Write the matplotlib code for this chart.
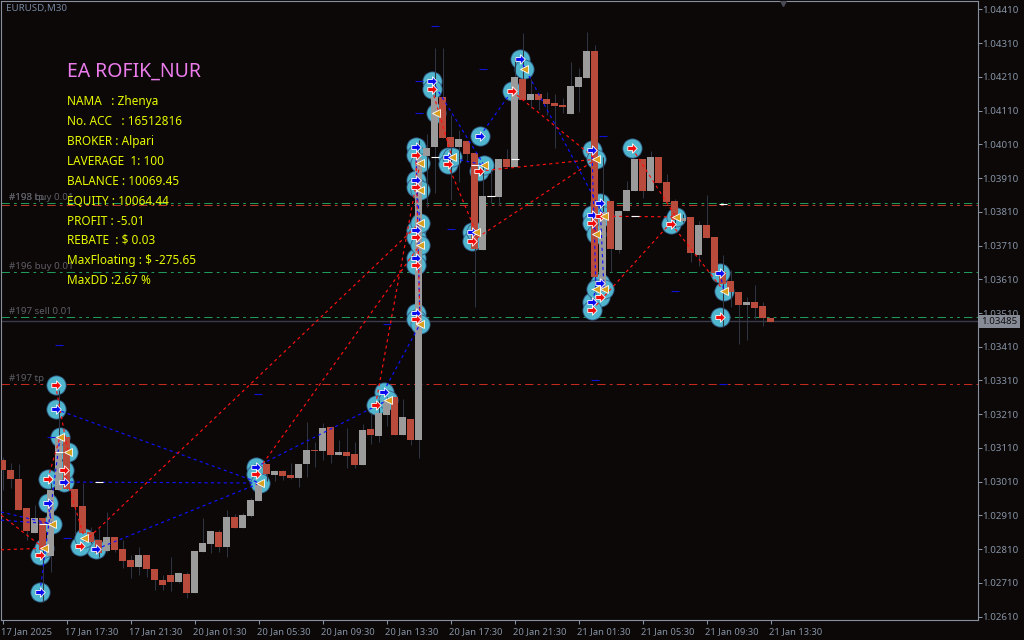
import matplotlib
matplotlib.use("Agg")
import matplotlib.pyplot as plt
from matplotlib.path import Path
from matplotlib.transforms import ScaledTranslation

FONT = "Noto Sans"
plt.rcParams["font.family"] = FONT
plt.rcParams["lines.scale_dashes"] = False

# Candle data (fifth decimal "points" above 1.00000)
opens = [3074,3045,3018,2932,2857,2902,2790,2985,3143,2987,2938,2860,2837,2806,2845,2810,2778,2758,2793,2751,2719,2733,2713,2736,2680,2802,2825,2861,2816,2905,2873,2908,2953,3062,3030,3042,3030,3021,3062,3104,3101,3172,3089,3098,3092,3059,3166,3145,3208,3261,3148,3196,3134,3975,4003,4151,4031,4001,4020,3983,3697,3855,3855,3966,3944,4203,4141,4159,4144,4132,4126,4100,4180,4206,4287,3578,3842,3697,3812,3871,3966,3871,3972,3899,3842,3784,3795,3682,3771,3735,3632,3605,3572,3534,3543,3531,3495]
closes = [3045,3018,2926,2863,2902,2807,2985,3143,2987,2936,2857,2830,2800,2845,2807,2775,2757,2793,2751,2719,2704,2713,2739,2680,2805,2828,2864,2816,2905,2873,2911,2956,3005,3033,3042,3027,3021,3062,3104,3101,3169,3089,3098,3086,3059,3163,3148,3213,3252,3148,3202,3134,3969,3998,4151,4030,4001,4026,3981,3700,3857,3858,3966,3944,4210,4141,4159,4143,4129,4123,4120,4183,4209,4287,3618,3810,3700,3812,3874,3966,3871,3972,3895,3839,3786,3793,3688,3771,3732,3628,3595,3572,3534,3543,3525,3495,3483]
highs = [3082,3064,3062,2932,2941,2902,3005,3282,3143,2987,3005,2877,2872,2921,2845,2837,2793,2817,2793,2751,2733,2788,2743,2743,2805,2901,2864,2867,2926,2914,2916,2961,3010,3062,3045,3045,3064,3062,3188,3129,3185,3172,3135,3168,3129,3181,3213,3252,3260,3261,3255,3196,4023,4042,4297,4297,4097,4054,4020,3983,3953,3934,3966,3995,4270,4339,4205,4159,4166,4159,4146,4253,4235,4342,4304,3973,3842,3815,3901,3966,3966,3990,3972,3922,3848,3805,3795,3783,3860,3735,3682,3637,3572,3558,3593,3543,3495]
lows = [2985,2990,2926,2837,2857,2654,2743,2985,2987,2852,2857,2827,2788,2803,2803,2753,2725,2733,2728,2689,2689,2687,2709,2664,2680,2802,2798,2803,2788,2873,2872,2906,2953,3012,3012,3015,3017,2993,3023,3054,3074,3066,3089,3052,3050,3059,3122,3129,3175,3148,3148,3119,3081,3825,3867,4030,3845,3899,3958,3529,3697,3835,3830,3944,3944,4141,4117,4112,4097,3998,4102,4100,4107,4206,3578,3578,3632,3689,3812,3871,3852,3871,3895,3839,3766,3781,3661,3649,3732,3628,3469,3529,3418,3430,3492,3471,3483]

# Time labels, one per eight candles
time_labels = ["17 Jan 2025","17 Jan 17:30","17 Jan 21:30","20 Jan 01:30","20 Jan 05:30","20 Jan 09:30","20 Jan 13:30","20 Jan 17:30","20 Jan 21:30","21 Jan 01:30","21 Jan 05:30","21 Jan 09:30","21 Jan 13:30"]
price_ticks = [4410,4310,4210,4110,4010,3910,3810,3710,3610,3510,3410,3310,3210,3110,3010,2910,2810,2710,2610]
current_price = 3485

# Order levels
level_prices = [3835,3829,3631,3497,3299]
level_names = ["#193 buy 0.01","#198 tp","#196 buy 0.01","#197 sell 0.01","#197 tp"]
level_colors = ["#1f9a5a","#b5392b","#1f9a5a","#1f9a5a","#c62a1e"]

# Trade arrows (candle index, price in points)
buy_idx = [6.6,7.66,5.63,4.66,11.66,31.6,47.6,51.66,53.66,51.66,51.66,51.66,51.66,55.62,59.66,58.66,64.66,73.66,73.66,74.66,74.66,73.66,89.66]
buy_px = [3225,3009,2947,2683,2810,3053,3277,4002,4198,3904,3756,3673,3510,3972,4035,3750,4263,3993,3800,3836,3599,3543,3628]
sell_idx = [6.6,7.66,5.63,4.66,9.66,31.6,46.6,51.66,53.66,51.66,51.66,51.66,51.66,55.62,59.58,58.66,63.66,78.66,74.66,73.66,74.66,73.66,83.58,89.66]
sell_px = [3297,3045,3018,2793,2819,3033,3237,3978,4174,3883,3735,3652,3492,3952,3931,3723,4168,3999,3797,3777,3557,3519,3774,3498]
close_idx = [7.16,8.16,6.13,5.13,10.2,32.16,48.13,52.16,54.16,52.16,52.16,52.16,52.16,56.16,60.16,59.16,65.16,74.16,75.16,74.16,74.16,75.16,84.16,90.16]
close_px = [3142,3098,2885,2813,2843,3006,3252,3955,4103,3875,3777,3712,3477,3972,3949,3750,4233,3966,3797,3744,3581,3581,3795,3575]

# Which open arrow joins which close triangle
buy_links = [(0,5),(1,5),(3,0),(2,2),(4,5),(5,6),(6,12),(7,12),(9,10),(10,11),(8,14),(13,14),(16,18),(17,20),(19,21),(18,19),(21,20),(22,23)]
sell_links = [(0,1),(1,4),(2,0),(3,3),(4,10),(5,11),(6,7),(7,12),(9,9),(8,13),(13,15),(14,17),(15,17),(16,17),(17,22),(18,22),(21,22),(19,19),(20,21),(22,23)]
edge_idx = -0.2
edge_buy_px = [2920,2896]
edge_sell_px = [2911,2808]
buy_to_sell = [(14,16)]

# Small marks
blue_tick_idx = [31.9,8.0,6.0,10.0,60.0,52.0,52.0,75.0,56.0,48.0,84.0,54.0,7.0,74.0,90.0]
blue_tick_px = [3269,2843,3142,2560,4232,4199,4103,4035,3759,3477,3576,4360,3415,3310,3300]
white_tick_idx = [12.0,7.0,5.0,54.0,59.0,61.0,64.0,79.0,74.0,90.0]
white_tick_px = [3009,3098,2885,3972,3949,3858,3966,3797,3581,3832]

RED = "#b94b3c"; GRAY = "#9b9b9b"; WICK = "#2f3342"; BG = "#0b0807"; TXT = "#8793a5"
TEAL = "#4fb6cd"; RING = "#35608c"

fig = plt.figure(figsize=(10.24, 6.40), dpi=100, facecolor=BG)
ax = fig.add_axes([1/1024, 1-620/640, 977/1024, 619/640], facecolor=BG)
scale = lambda a: [1 + v/100000 for v in a]
o, c, h, l = scale(opens), scale(closes), scale(highs), scale(lows)
xs = list(range(len(o)))

# levels
for p, col in zip(level_prices, level_colors):
    ax.axhline(1+p/100000, color=col, lw=0.75, ls=(0,(6,3,2,3,6,3,2,3,2,3)), zorder=1)
ax.axhline(1+current_price/100000, color="#3b3b4d", lw=1.0, zorder=1)

# circles under the candles
for xx, yy in ((buy_idx,buy_px),(sell_idx,sell_px),(close_idx,close_px)):
    ax.plot(xx, scale(yy), ls="", marker="o", ms=13.8, mfc=TEAL, mec=RING, mew=0.6, zorder=2)

colors = [GRAY if cc >= oo else RED for oo, cc in zip(o, c)]
ax.vlines(xs, l, h, color=WICK, lw=0.75, zorder=3)
ax.bar(xs, [abs(a-b) if abs(a-b) > 0 else 1e-5 for a, b in zip(o, c)],
       bottom=[min(a,b) for a,b in zip(o,c)], width=0.875, color=colors, lw=0, zorder=4)

# trade lines
ls = (0, (2.2, 2.4))
def link(x0, y0, x1, y1, col):
    ax.plot([x0, x1], [1+y0/100000, 1+y1/100000], color=col, lw=0.85, ls=ls, zorder=5)
for a, b in buy_links:
    link(buy_idx[a], buy_px[a], close_idx[b], close_px[b], "#1010ff")
for a, b in sell_links:
    link(sell_idx[a], sell_px[a], close_idx[b], close_px[b], "#ff1010")
for a, b in buy_to_sell:
    link(buy_idx[a], buy_px[a], sell_idx[b], sell_px[b], "#1010ff")
for p in edge_buy_px:
    link(edge_idx, p, close_idx[2], close_px[2], "#1010ff")
for p in edge_sell_px:
    link(edge_idx, p, close_idx[3], close_px[3], "#ff1010")

# marks
ax.plot(blue_tick_idx, scale(blue_tick_px), ls="", marker="_", ms=5.5, mew=0.8, color="#1010d8", zorder=5)
ax.plot(white_tick_idx, scale(white_tick_px), ls="", marker="_", ms=5.5, mew=0.8, color="#ffffff", zorder=6)

arrow = Path([(-1,-.42),(0,-.42),(0,-1),(1,0),(0,1),(0,.42),(-1,.42),(-1,-.42)], closed=True)
ax.plot(buy_idx, scale(buy_px), ls="", marker=arrow, ms=6.8, mfc="#0a0af0", mec="white", mew=0.6, zorder=7)
ax.plot(sell_idx, scale(sell_px), ls="", marker=arrow, ms=6.8, mfc="#f00a0a", mec="white", mew=0.6, zorder=7)
ax.plot(close_idx, scale(close_px), ls="", marker="<", ms=5.8, mfc="#d9a020", mec="white", mew=0.6, zorder=7)

ax.set_xlim((1-2.7)/8, (978-2.7)/8)
ax.set_ylim(1.02600, 1.04435)
ax.yaxis.tick_right()
ax.set_yticks(scale(price_ticks))
ax.set_yticklabels([f"{1+p/100000:.5f}" for p in price_ticks])
ax.set_xticks(list(range(0, 8*len(time_labels), 8)))
ax.set_xticklabels(time_labels, ha="left")
ax.tick_params(axis="y", colors=TXT, labelsize=7, length=3, width=0.75, pad=0, labelcolor=TXT)
ax.tick_params(axis="x", colors=TXT, labelsize=6.8, length=3, width=0.75, pad=2, labelcolor=TXT)
nudge = ScaledTranslation(-1/72, 0, fig.dpi_scale_trans)
for t in ax.get_xticklabels():
    t.set_transform(t.get_transform() + nudge)
for s in ax.spines.values():
    s.set_color("#8a8f9f"); s.set_linewidth(0.8)

# shift marker
ax.plot([97.5], [1.04435], marker="v", ms=7, color="#4a4a55", clip_on=True, zorder=7)

# current price tag
ax.text(1.0032, 1+current_price/100000, f"{1+current_price/100000:.5f}", transform=ax.get_yaxis_transform(),
        fontsize=7, color="#101010", va="center", ha="left", clip_on=False, zorder=9,
        bbox=dict(boxstyle="square,pad=0.25", fc="#878b96", ec="none"))

# level labels
for p, name in zip(level_prices, level_names):
    off = 9 if p == 3829 else 3
    ax.text(0.75, 1+(p+off)/100000, name, fontsize=7, color="#5e5e66", va="bottom", ha="left", zorder=8)

def px(x, y):
    return x/1024, 1-y/640

fig.text(*px(6, 9), "EURUSD,M30", fontsize=7, color="#7686a0", va="center")
fig.text(*px(67, 77), "EA ROFIK_NUR", fontsize=14, color="#ec7cec", va="baseline")
panel = ["NAMA   : Zhenya","No. ACC   : 16512816","BROKER : Alpari","LAVERAGE  1: 100","BALANCE : 10069.45","EQUITY : 10064.44","PROFIT : -5.01","REBATE  : $ 0.03","MaxFloating : $ -275.65","MaxDD :2.67 %"]
panel_y = [105,125,145,165,185,205,225,244,264,284]
for s, y in zip(panel, panel_y):
    fig.text(*px(67, y), s, fontsize=8.5, color="#e8fa00", va="baseline", zorder=9)

fig.savefig("out.png", dpi=100, facecolor=BG)
